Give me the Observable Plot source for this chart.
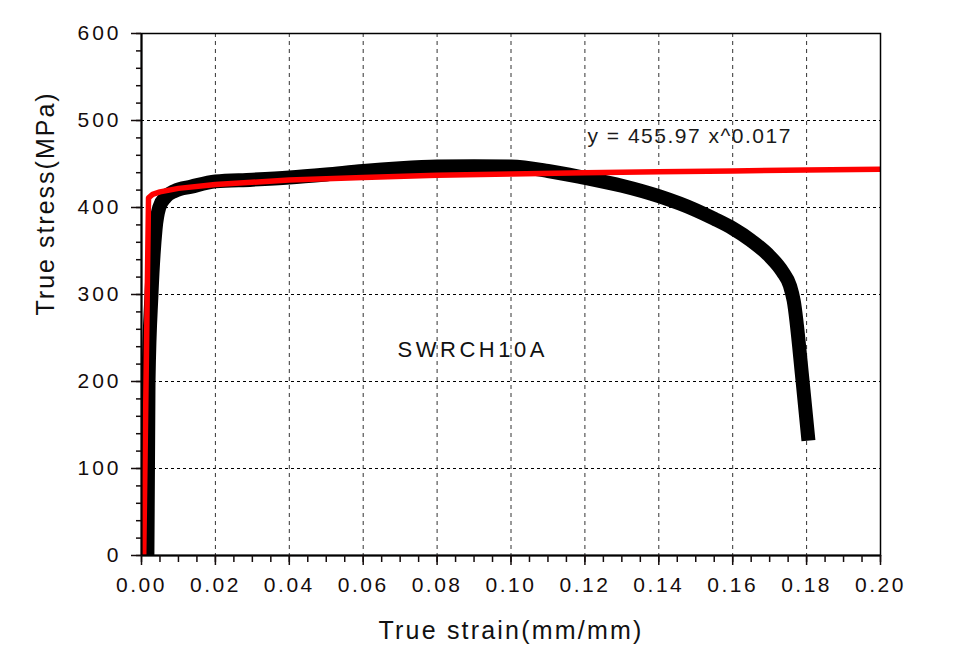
<!DOCTYPE html>
<html>
<head>
<meta charset="utf-8">
<script src="https://cdn.jsdelivr.net/npm/d3@7"></script>
<script src="https://cdn.jsdelivr.net/npm/@observablehq/plot@0.6"></script>
<style>
  html, body { margin: 0; padding: 0; background: #fff; }
  #chart { width: 963px; height: 651px; }
</style>
</head>
<body>
<div id="chart"></div>
<script>
// Measured curve (black)
const blackStrain = [0.0016, 0.0019, 0.0027, 0.0038, 0.0048, 0.0065, 0.009, 0.0135, 0.02, 0.03, 0.04, 0.05, 0.06, 0.07, 0.08, 0.09, 0.10, 0.11, 0.12, 0.13, 0.14, 0.15, 0.155, 0.16, 0.165, 0.170, 0.1735, 0.1755, 0.1765, 0.1789, 0.1805];
const blackStress = [0, 200, 300, 375, 400, 412, 419, 424, 430, 432, 434.5, 438, 442, 445, 447, 447.5, 447, 442, 434, 425, 413, 397, 387, 376, 362, 344, 326, 310, 293, 201, 132];
// Power-law fit (red)
const redStrain = [0.0006, 0.0019, 0.003, 0.005, 0.01, 0.02, 0.04, 0.06, 0.08, 0.10, 0.12, 0.14, 0.16, 0.18, 0.20];
const redStress = [0, 411, 415, 418, 422, 426.5, 431.5, 434.5, 437, 438.5, 440, 441, 442, 443, 444];

const xTicks = [0, 0.02, 0.04, 0.06, 0.08, 0.10, 0.12, 0.14, 0.16, 0.18, 0.20];
const xMinor = d3.range(0, 41).map(i => i * 0.005);
const yTicks = [0, 100, 200, 300, 400, 500, 600];
const yMinor = d3.range(0, 31).map(i => i * 20);
const xGrid = [0.02, 0.04, 0.06, 0.08, 0.10, 0.12, 0.14, 0.16, 0.18];
const yGrid = [100, 200, 300, 400, 500];

const sampleLabel = "SWRCH10A";
const fitLabel = "y = 455.97 x^0.017";
const xTitle = "True strain(mm/mm)";
const yTitle = "True stress(MPa)";

const black = blackStrain.map((x, i) => ({x, y: blackStress[i]}));
const red = redStrain.map((x, i) => ({x, y: redStress[i]}));

const chart = Plot.plot({
  width: 963,
  height: 651,
  marginLeft: 141,
  marginRight: 83,
  marginTop: 33,
  marginBottom: 96,
  style: {fontFamily: "'Liberation Sans', Arial, sans-serif", fontSize: "21px", background: "#fff", color: "#140c0c"},
  x: {domain: [0, 0.2]},
  y: {domain: [0, 600]},
  marks: [
    Plot.ruleY(yGrid, {stroke: "#000", strokeWidth: 1.2, strokeDasharray: "3,3"}),
    Plot.ruleX(xGrid, {stroke: "#333", strokeWidth: 1, strokeDasharray: "4,4"}),
    Plot.line(black, {x: "x", y: "y", curve: "monotone-x", stroke: "#000", strokeWidth: 14, strokeLinejoin: "round", strokeLinecap: "butt", clip: true}),
    Plot.line(red, {x: "x", y: "y", stroke: "#ff0000", strokeWidth: 5.5, strokeLinejoin: "round", clip: true}),
    Plot.frame({stroke: "#000", strokeWidth: 1.5}),
    Plot.ruleX([0], {stroke: "#000", strokeWidth: 2}),
    Plot.ruleY([0], {stroke: "#000", strokeWidth: 2}),
    Plot.axisY(yMinor, {tickSize: 5, tickFormat: () => "", label: null, strokeWidth: 1.5}),
    Plot.axisY(yTicks, {tickSize: 10, tickPadding: 10, label: null, strokeWidth: 1.5, fontSize: 21}),
    Plot.axisX(xMinor, {tickSize: 7, tickFormat: () => "", label: null, strokeWidth: 1.5}),
    Plot.axisX(xTicks, {tickSize: 10, tickPadding: 12, label: null, strokeWidth: 1.5, fontSize: 21, tickFormat: d3.format(".2f")}),
    Plot.text([sampleLabel], {x: 0.0693, y: 228.7, text: d => d, textAnchor: "start", lineAnchor: "bottom", fontSize: 22, fill: "#111"}),
    Plot.text([fitLabel], {x: 0.1207, y: 473.6, text: d => d, textAnchor: "start", lineAnchor: "bottom", fontSize: 21, fill: "#1a1a1a"}),
    Plot.text([xTitle], {frameAnchor: "bottom", text: d => d, dy: 83, lineAnchor: "bottom", fontSize: 25, fill: "#111"}),
    Plot.text([yTitle], {frameAnchor: "left", text: d => d, rotate: -90, dx: -88, dy: 21, lineAnchor: "bottom", fontSize: 25, fill: "#111"})
  ]
});

document.getElementById("chart").appendChild(chart);
// letter spacing to match the horizontally wide lettering of the reference
chart.querySelectorAll("text").forEach(t => {
  const s = t.textContent;
  let ls = null;
  if (s === sampleLabel) ls = "3.5px";
  else if (s === fitLabel) ls = "1.5px";
  else if (s === xTitle) ls = "2.2px";
  else if (s === yTitle) ls = "2px";
  else if (/^\d\.\d\d$/.test(s)) ls = "2.5px";
  else if (/^\d+$/.test(s)) ls = "3px";
  if (ls) { t.setAttribute("letter-spacing", ls); t.style.letterSpacing = ls; }
});
</script>
</body>
</html>
